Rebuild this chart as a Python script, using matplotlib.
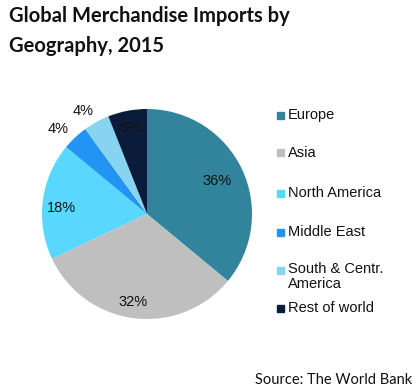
import matplotlib.pyplot as plt
import numpy as np

# data
regions = ['Europe', 'Asia', 'North America', 'Middle East',
           'South & Centr.\nAmerica', 'Rest of world']
shares = [36, 32, 18, 4, 4, 6]
colors = ['#31849B', '#BFBFBF', '#5AD7FF', '#2294F3', '#86D4F1', '#0B1C3B']

# label placement (radius, angle nudge in degrees) for each slice
lab_r = [0.74, 0.85, 0.82, 1.17, 1.15, 0.83]
lab_nudge = [0, -2, 3, 3, 3, 0]
# legend rows, y in pixels from the top (centre of the first line)
leg_y = [115, 153, 193, 232, 270, 308]

W, H = 416, 391
fig = plt.figure(figsize=(W / 100, H / 100), dpi=100)

cx, cy, R = 147, 214, 105
ax = fig.add_axes([(cx - R) / W, 1 - (cy + R) / H, 2 * R / W, 2 * R / H])
wedges, _ = ax.pie(shares, colors=colors, startangle=90, counterclock=False,
                   wedgeprops=dict(linewidth=0))
ax.set_xlim(-1, 1)
ax.set_ylim(-1, 1)
ax.set_aspect('equal')

for w, s, r, d in zip(wedges, shares, lab_r, lab_nudge):
    ang = np.deg2rad((w.theta1 + w.theta2) / 2 + d)
    ax.text(r * np.cos(ang), r * np.sin(ang), '%d%%' % s,
            ha='center', va='center', fontsize=10.5,
            family='Liberation Sans', color='#111111')

# legend drawn by hand so the row spacing matches
for w, name, y in zip(wedges, regions, leg_y):
    fig.patches.append(plt.Rectangle((277 / W, 1 - (y + 3.5) / H), 7 / W, 7 / H,
                                     transform=fig.transFigure,
                                     color=w.get_facecolor()))
    if '\n' in name:
        fig.text(288 / W, 1 - (y - 8) / H, name, ha='left', va='top',
                 fontsize=10.5, family='Liberation Sans', linespacing=1.1,
                 color='#111111')
    else:
        fig.text(288 / W, 1 - y / H, name, ha='left', va='center',
                 fontsize=10.5, family='Liberation Sans', color='#111111')

fig.text(9 / W, 1 - 6 / H, 'Global Merchandise Imports by\nGeography, 2015',
         ha='left', va='top', fontsize=14.5, fontweight='bold', family='Lato',
         linespacing=1.6, color='#111111')
fig.text(412 / W, 1 - 380 / H, 'Source: The World Bank', ha='right', va='center',
         fontsize=10.5, family='Lato', color='#111111')

fig.savefig('out.png', dpi=100)
